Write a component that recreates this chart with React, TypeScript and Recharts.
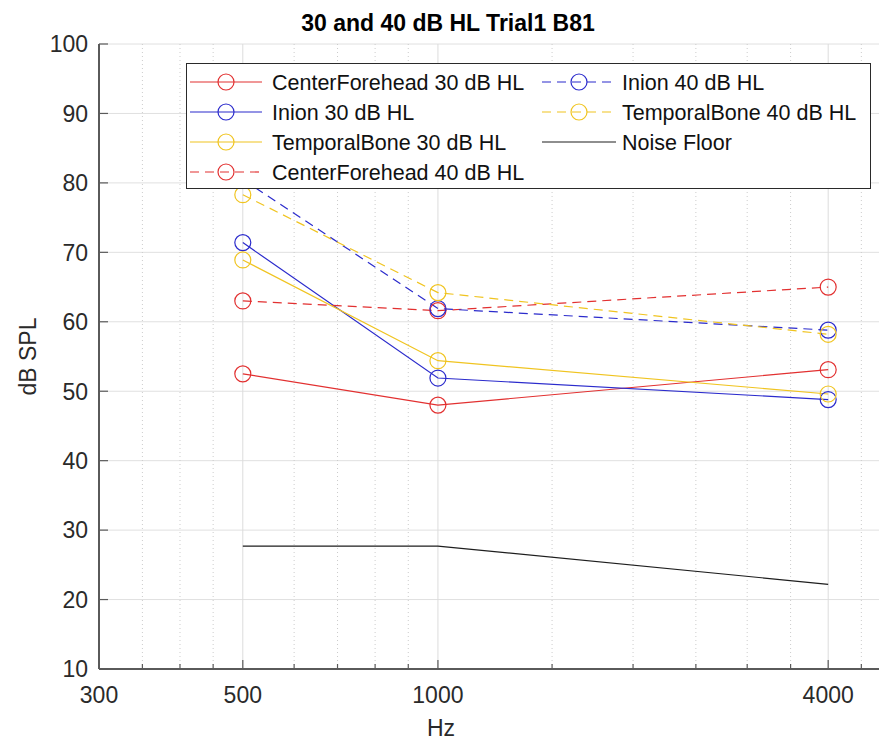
import React from 'react';
import { LineChart, Line, XAxis, YAxis, CartesianGrid, ReferenceLine } from 'recharts';

// ---------------- data ----------------
const frequencies = [500, 1000, 4000];
const centerForehead30 = [52.5, 48.0, 53.1];
const inion30 = [71.4, 51.9, 48.8];
const temporalBone30 = [68.9, 54.4, 49.6];
const centerForehead40 = [63.0, 61.6, 65.0];
const inion40 = [80.5, 61.9, 58.8];
const temporalBone40 = [78.3, 64.2, 58.2];
const noiseFloor = [27.7, 27.7, 22.2];

const xMajorTicks = [300, 500, 1000, 4000];
const xMinorTicks = [350, 400, 450, 600, 700, 800, 900, 1500, 2000, 2500, 3000, 3500, 4500];
const yTicks = [10, 20, 30, 40, 50, 60, 70, 80, 90, 100];
const xDomain = [300, 5000];
const yDomain = [10, 100];

const titleText = '30 and 40 dB HL Trial1 B81';
const xLabelText = 'Hz';
const yLabelText = 'dB SPL';

// ---------------- styles ----------------
const RED = '#e23030';
const BLUE = '#2b2bcc';
const YELLOW = '#f0c420';
const BLACK = '#1e1e1e';
const DASH = '9 6';
const FONT = '"Liberation Sans", Arial, Helvetica, sans-serif';
const AXIS_COLOR = '#5a5a5a';
const TEXT_COLOR = '#2a2a2a';

type Series = { key: string; name: string; values: number[]; color: string; dashed: boolean; marker: boolean };

const series: Series[] = [
  { key: 'cf30', name: 'CenterForehead 30 dB HL', values: centerForehead30, color: RED, dashed: false, marker: true },
  { key: 'in30', name: 'Inion 30 dB HL', values: inion30, color: BLUE, dashed: false, marker: true },
  { key: 'tb30', name: 'TemporalBone 30 dB HL', values: temporalBone30, color: YELLOW, dashed: false, marker: true },
  { key: 'cf40', name: 'CenterForehead 40 dB HL', values: centerForehead40, color: RED, dashed: true, marker: true },
  { key: 'in40', name: 'Inion 40 dB HL', values: inion40, color: BLUE, dashed: true, marker: true },
  { key: 'tb40', name: 'TemporalBone 40 dB HL', values: temporalBone40, color: YELLOW, dashed: true, marker: true },
  { key: 'noise', name: 'Noise Floor', values: noiseFloor, color: BLACK, dashed: false, marker: false },
];

const data = frequencies.map((f, i) => {
  const row: Record<string, number> = { hz: f };
  series.forEach((s) => {
    row[s.key] = s.values[i];
  });
  return row;
});

const allXTicks = [...xMajorTicks, ...xMinorTicks].sort((a, b) => a - b);

const Y_TICK_GAP = 10;

const BottomTick = (props: any) => {
  const { x, y, payload } = props;
  const major = xMajorTicks.includes(payload.value);
  return (
    <g>
      <line x1={x} x2={x} y1={y} y2={y - (major ? 9 : 5)} stroke={AXIS_COLOR} strokeWidth={1.2} />
      {major && (
        <text x={x} y={y + 34} textAnchor="middle" fontSize={23} fill={TEXT_COLOR} fontFamily={FONT}>
          {payload.value}
        </text>
      )}
    </g>
  );
};

const TopTick = (props: any) => {
  const { x, y, payload } = props;
  const major = xMajorTicks.includes(payload.value);
  return <line x1={x} x2={x} y1={y} y2={y + (major ? 9 : 5)} stroke={AXIS_COLOR} strokeWidth={1.2} />;
};

const LeftTick = (props: any) => {
  const { x, y, payload } = props;
  const ax = x + Y_TICK_GAP;
  return (
    <g>
      <line x1={ax} x2={ax + 9} y1={y} y2={y} stroke={AXIS_COLOR} strokeWidth={1.2} />
      <text x={x - 1} y={y} dy="0.36em" textAnchor="end" fontSize={23} fill={TEXT_COLOR} fontFamily={FONT}>
        {payload.value}
      </text>
    </g>
  );
};

const legendCols = [
  { x1: 3, x2: 75, mx: 39, tx: 85 },
  { x1: 355, x2: 429, mx: 392, tx: 435 },
];

const LegendBox = () => (
  <div
    style={{
      position: 'absolute',
      left: 186,
      top: 63,
      width: 685,
      height: 126,
      boxSizing: 'border-box',
      border: '1.5px solid #2a2a2a',
      background: '#fff',
    }}
  >
    <svg width={683} height={124} style={{ display: 'block' }}>
      {series.map((s, i) => {
        const col = legendCols[i < 4 ? 0 : 1];
        const row = i < 4 ? i : i - 4;
        const cy = 18 + row * 30;
        return (
          <g key={s.key}>
            <line
              x1={col.x1}
              x2={col.x2}
              y1={cy}
              y2={cy}
              stroke={s.color}
              strokeWidth={1.2}
              strokeDasharray={s.dashed ? DASH : undefined}
            />
            {s.marker && <circle cx={col.mx} cy={cy} r={8} fill="none" stroke={s.color} strokeWidth={1.2} />}
            <text x={col.tx} y={cy} dy="0.36em" fontSize={21.5} fill="#111" fontFamily={FONT}>
              {s.name}
            </text>
          </g>
        );
      })}
    </svg>
  </div>
);

export default function App() {
  return (
    <div
      style={{
        position: 'absolute',
        left: 0,
        top: 0,
        width: 879,
        height: 742,
        overflow: 'hidden',
        background: '#fff',
        fontFamily: FONT,
      }}
    >
      <LineChart width={900} height={742} data={data} margin={{ top: 44, right: 9, bottom: 0, left: 0 }}>
        <CartesianGrid vertical={false} stroke="#e0e0e0" />
        {xMinorTicks.map((v) => (
          <ReferenceLine
            key={'minor' + v}
            x={v}
            ifOverflow="visible"
            stroke="#cccccc"
            strokeDasharray="1 3"
            strokeWidth={1}
          />
        ))}
        {xMajorTicks.map((v) => (
          <ReferenceLine key={'major' + v} x={v} ifOverflow="visible" stroke="#dcdcdc" strokeWidth={1} />
        ))}
        <XAxis
          dataKey="hz"
          type="number"
          scale="log"
          domain={xDomain}
          ticks={allXTicks}
          interval={0}
          height={73}
          tickSize={0}
          tickMargin={0}
          tickLine={false}
          tick={<BottomTick />}
          axisLine={{ stroke: AXIS_COLOR, strokeWidth: 2 }}
          label={{ value: xLabelText, position: 'insideBottom', offset: 6, dx: -54, fontSize: 23, fill: TEXT_COLOR }}
        />
        <XAxis
          xAxisId="top"
          orientation="top"
          dataKey="hz"
          type="number"
          scale="log"
          domain={xDomain}
          ticks={allXTicks}
          interval={0}
          height={0}
          tickSize={0}
          tickMargin={0}
          tickLine={false}
          tick={<TopTick />}
          axisLine={{ stroke: AXIS_COLOR, strokeWidth: 1.5 }}
        />
        <YAxis
          type="number"
          domain={yDomain}
          ticks={yTicks}
          interval={0}
          width={99}
          tickSize={0}
          tickMargin={Y_TICK_GAP}
          tickLine={false}
          tick={<LeftTick />}
          axisLine={{ stroke: AXIS_COLOR, strokeWidth: 2 }}
          label={{
            value: yLabelText,
            angle: -90,
            position: 'insideLeft',
            offset: 28,
            fontSize: 23,
            fill: TEXT_COLOR,
            style: { textAnchor: 'middle' },
          }}
        />
        {series.map((s) => (
          <Line
            key={s.key}
            type="linear"
            dataKey={s.key}
            name={s.name}
            stroke={s.color}
            strokeWidth={1.2}
            strokeDasharray={s.dashed ? DASH : undefined}
            dot={s.marker ? { r: 8, fill: 'none', stroke: s.color, strokeWidth: 1.2, strokeDasharray: '' } : false}
            activeDot={false}
            isAnimationActive={false}
          />
        ))}
      </LineChart>
      <svg width={879} height={44} style={{ position: 'absolute', left: 0, top: 0 }}>
        <text x={448} y={31} textAnchor="middle" fontSize={23} fontWeight="bold" fill="#000" fontFamily={FONT}>
          {titleText}
        </text>
      </svg>
      <LegendBox />
    </div>
  );
}
